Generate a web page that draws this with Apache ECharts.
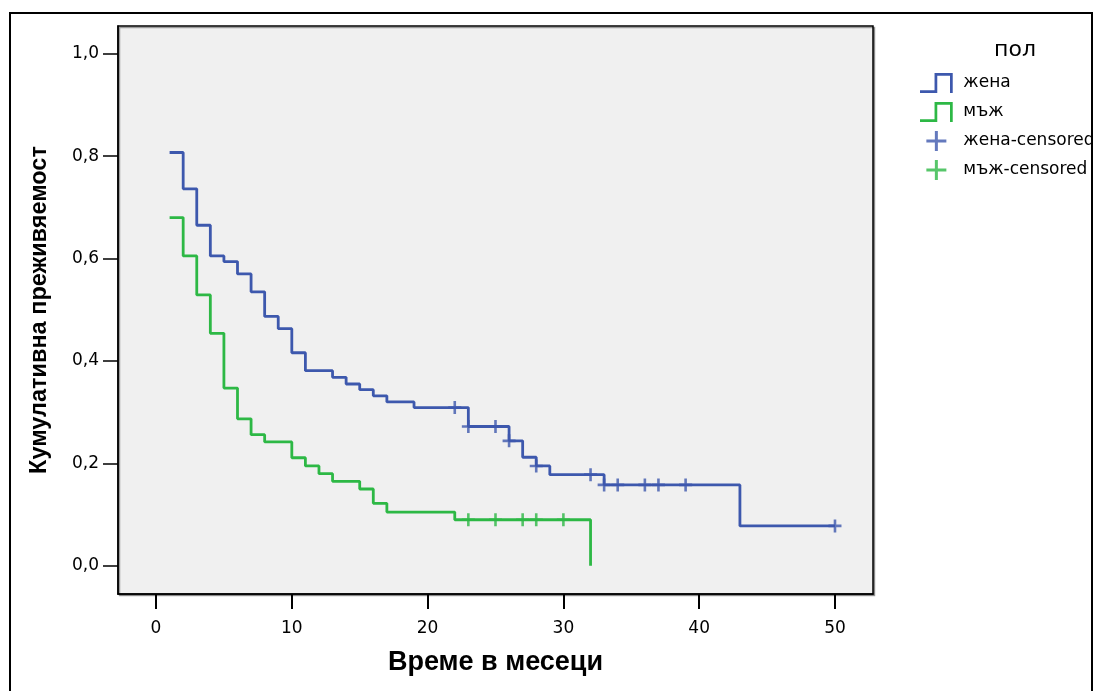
<!DOCTYPE html>
<html>
<head>
<meta charset="utf-8">
<script src="https://cdn.jsdelivr.net/npm/echarts@6/dist/echarts.min.js"></script>
<style>
  html, body { margin: 0; padding: 0; background: #fff; }
  #chart { width: 1094px; height: 691px; }
</style>
</head>
<body>
<div id="chart"></div>
<script>
// жена - времена на събитие и преживяемост
const femaleTime = [1, 2, 3, 4, 5, 6, 7, 8, 9, 10, 11, 13, 14, 15, 16, 17, 19, 23, 26, 27, 28, 29, 33, 43, 50]
const femaleSurv = [0.807, 0.736, 0.665, 0.605, 0.594, 0.570, 0.535, 0.487, 0.463, 0.416, 0.381, 0.368, 0.355, 0.344, 0.332, 0.320, 0.309, 0.272, 0.244, 0.212, 0.195, 0.178, 0.158, 0.078, 0.078]
// жена - цензурирани
const femaleCensTime = [22, 23, 25, 26, 28, 32, 33, 34, 36, 37, 39, 50]
const femaleCensSurv = [0.309, 0.272, 0.272, 0.244, 0.195, 0.178, 0.158, 0.158, 0.158, 0.158, 0.158, 0.078]

// мъж
const maleTime = [1, 2, 3, 4, 5, 6, 7, 8, 10, 11, 12, 13, 15, 16, 17, 22, 32]
const maleSurv = [0.680, 0.605, 0.529, 0.454, 0.347, 0.287, 0.256, 0.242, 0.211, 0.195, 0.180, 0.165, 0.150, 0.122, 0.105, 0.090, 0.0]
const maleCensTime = [23, 25, 27, 28, 30]
const maleCensSurv = [0.090, 0.090, 0.090, 0.090, 0.090]

// оси
const xTicks = [0, 10, 20, 30, 40, 50]
const yTicks = [0, 0.2, 0.4, 0.6, 0.8, 1.0]

const blue = '#3d58ad'
const green = '#2db845'
const font = "'DejaVu Sans', Verdana, sans-serif"
const boldFont = "'Liberation Sans', Arial, sans-serif"

const zip = (a, b) => a.map((v, i) => [v, b[i]])

// иконки
const stepIcon = 'path://M0,19H16V0H36V22H33V3H19V22H0Z'
const plusIcon = 'path://M8.5,0H11.5V8.5H20V11.5H11.5V20H8.5V11.5H0V8.5H8.5Z'
const censIcon = 'path://M8,0H12V8H20V12H12V20H8V12H0V8H8Z'

const chart = echarts.init(document.getElementById('chart'))

const option = {
    animation: false,
    backgroundColor: '#ffffff',
    title: {
        text: 'пол',
        left: 1010,
        top: 34,
        textAlign: 'center',
        textStyle: {
            fontFamily: font,
            fontSize: 22,
            fontWeight: 'normal',
            color: '#000'
        }
    },
    legend: {
        orient: 'vertical',
        left: 915,
        top: 68,
        itemWidth: 34,
        itemHeight: 20,
        itemGap: 9,
        symbolKeepAspect: true,
        textStyle: {
            fontFamily: font,
            fontSize: 17,
            color: '#000',
            padding: [0, 0, 0, 5]
        },
        data: [
            { name: 'жена', icon: stepIcon },
            { name: 'мъж', icon: stepIcon },
            { name: 'жена-censored', icon: plusIcon },
            { name: 'мъж-censored', icon: plusIcon }
        ]
    },
    graphic: [{
        type: 'rect',
        shape: { x: 10, y: 13, width: 1082, height: 700 },
        style: { fill: 'none', stroke: '#000', lineWidth: 2 },
        silent: true
    }],
    grid: {
        left: 118,
        top: 26,
        right: 221,
        bottom: 97,
        show: true,
        backgroundColor: '#f0f0f0',
        borderColor: '#000',
        borderWidth: 1.5,
        shadowColor: 'rgba(0,0,0,0.35)',
        shadowOffsetX: 1.5,
        shadowOffsetY: 1.5,
        shadowBlur: 0
    },
    xAxis: {
        type: 'value',
        min: -2.8,
        max: 52.8,
        name: 'Време в месеци',
        nameLocation: 'middle',
        nameGap: 55,
        nameTextStyle: {
            fontFamily: boldFont,
            fontSize: 27,
            fontWeight: 'bold',
            color: '#000'
        },
        axisLine: { show: true, onZero: false, lineStyle: { color: '#000', width: 1.5 } },
        axisTick: {
            show: true,
            length: 15,
            customValues: xTicks,
            lineStyle: { color: '#000', width: 2 }
        },
        axisLabel: {
            customValues: xTicks,
            margin: 26,
            fontFamily: font,
            fontSize: 17,
            color: '#000'
        },
        splitLine: { show: false }
    },
    yAxis: {
        type: 'value',
        min: -0.055,
        max: 1.054,
        name: 'Кумулативна преживяемост',
        nameLocation: 'middle',
        nameGap: 66,
        nameTextStyle: {
            fontFamily: boldFont,
            fontSize: 23.5,
            fontWeight: 'bold',
            color: '#000'
        },
        axisLine: { show: true, onZero: false, lineStyle: { color: '#000', width: 1.5 } },
        axisTick: {
            show: true,
            length: 15,
            customValues: yTicks,
            lineStyle: { color: '#000', width: 1.5 }
        },
        axisLabel: {
            customValues: yTicks,
            margin: 19,
            fontFamily: font,
            fontSize: 17,
            color: '#000',
            formatter: (v) => v.toFixed(1).replace('.', ',')
        },
        splitLine: { show: false }
    },
    series: [{
        name: 'жена',
        type: 'line',
        step: 'end',
        showSymbol: false,
        color: blue,
        lineStyle: { color: blue, width: 2.8 },
        data: zip(femaleTime, femaleSurv),
        z: 3
    }, {
        name: 'мъж',
        type: 'line',
        step: 'end',
        showSymbol: false,
        color: green,
        lineStyle: { color: green, width: 2.8 },
        data: zip(maleTime, maleSurv),
        z: 2
    }, {
        name: 'жена-censored',
        type: 'scatter',
        symbol: censIcon,
        symbolSize: 13,
        color: blue,
        data: zip(femaleCensTime, femaleCensSurv),
        z: 4
    }, {
        name: 'мъж-censored',
        type: 'scatter',
        symbol: censIcon,
        symbolSize: 13,
        color: green,
        data: zip(maleCensTime, maleCensSurv),
        z: 4
    }]
}

chart.setOption(option)
</script>
</body>
</html>
